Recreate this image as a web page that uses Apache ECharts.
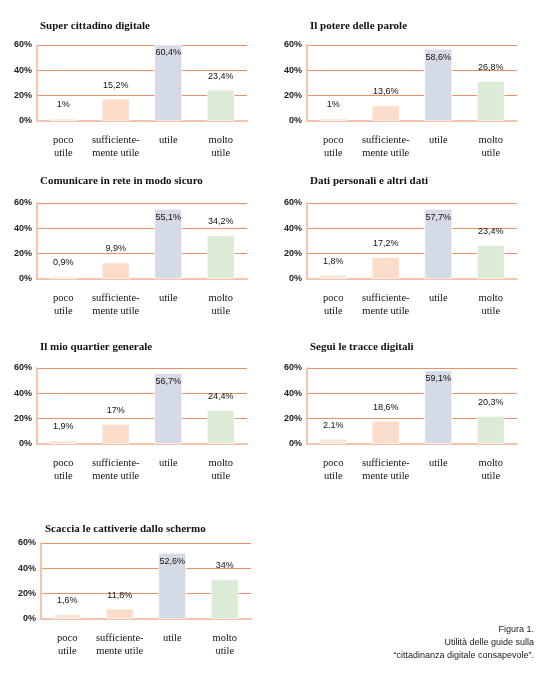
<!DOCTYPE html>
<html>
<head>
<meta charset="utf-8">
<script src="https://cdn.jsdelivr.net/npm/echarts@6/dist/echarts.min.js"></script>
<style>
  html, body { margin: 0; padding: 0; background: #fff; }
  #main { width: 556px; height: 694px; }
</style>
</head>
<body>
<div id="main"></div>
<script>
// categorie e testi
var categories = ['poco\nutile', 'sufficiente-\nmente utile', 'utile', 'molto\nutile'];
var titles = [
    'Super cittadino digitale',
    'Il potere delle parole',
    'Comunicare in rete in modo sicuro',
    'Dati personali e altri dati',
    'Il mio quartier generale',
    'Segui le tracce digitali',
    'Scaccia le cattiverie dallo schermo'
];
var yTicks = [0, 20, 40, 60];

// altezze delle barre ed etichette
var superCittadino = [2.1, 17.7, 60.8, 24.8];
var superCittadinoLbl = ['1%', '15,2%', '60,4%', '23,4%'];
var potereParole = [2.1, 12.4, 57.1, 31.6];
var potereParoleLbl = ['1%', '13,6%', '58,6%', '26,8%'];
var comunicare = [2.1, 13.1, 55.5, 34.8];
var comunicareLbl = ['0,9%', '9,9%', '55,1%', '34,2%'];
var datiPersonali = [3.4, 17.3, 55.5, 26.7];
var datiPersonaliLbl = ['1,8%', '17,2%', '57,7%', '23,4%'];
var quartierGenerale = [3.1, 15.9, 56.1, 26.9];
var quartierGeneraleLbl = ['1,9%', '17%', '56,7%', '24,4%'];
var tracceDigitali = [4.2, 18.3, 58.2, 22.2];
var tracceDigitaliLbl = ['2.1%', '18,6%', '59,1%', '20,3%'];
var cattiverie = [4.0, 8.2, 52.3, 31.5];
var cattiverieLbl = ['1,6%', '11,8%', '52,6%', '34%'];

var values = [superCittadino, potereParole, comunicare, datiPersonali, quartierGenerale, tracceDigitali, cattiverie];
var labels = [superCittadinoLbl, potereParoleLbl, comunicareLbl, datiPersonaliLbl, quartierGeneraleLbl, tracceDigitaliLbl, cattiverieLbl];

// layout dei pannelli
var colLeft = [37, 307, 37, 307, 37, 307, 41];
var rowTop = [45, 45, 203, 203, 368, 368, 543];
var titleTop = [16, 16, 171, 171, 337, 337, 519];
var titleLeft = [35, 305, 35, 305, 35, 305, 40];

var barColors = ['#F9E8DA', '#FADCC8', '#D5DBE6', '#DBEBD6'];
var serif = '"Liberation Serif", "DejaVu Serif", serif';
var sans = '"Liberation Sans", Arial, sans-serif';

var myChart = echarts.init(document.getElementById('main'));

var option = {
    backgroundColor: '#fff',
    animation: false,
    title: [],
    grid: [],
    xAxis: [],
    yAxis: [],
    series: [],
    graphic: [{
        type: 'text',
        x: 534,
        y: 623,
        style: {
            text: 'Figura 1.\nUtilità delle guide sulla\n“cittadinanza digitale consapevole”.',
            align: 'right',
            verticalAlign: 'top',
            font: '9px "Liberation Sans Narrow", "Liberation Sans", sans-serif',
            lineHeight: 13,
            fill: '#222'
        }
    }]
};

for (var i = 0; i < values.length; i++) {
    option.title.push({
        text: titles[i],
        left: titleLeft[i],
        top: titleTop[i],
        textStyle: { fontFamily: serif, fontWeight: 'bold', fontSize: 11, color: '#111' }
    });
    option.grid.push({ left: colLeft[i], top: rowTop[i], width: 210, height: 76 });
    option.xAxis.push({
        type: 'category',
        gridIndex: i,
        data: categories,
        axisLine: { lineStyle: { color: '#F5C3AB', width: 2 } },
        axisTick: { show: false },
        axisLabel: { fontFamily: serif, fontSize: 10.5, lineHeight: 13, color: '#111', margin: 13, interval: 0 }
    });
    option.yAxis.push({
        type: 'value',
        gridIndex: i,
        min: yTicks[0],
        max: yTicks[yTicks.length - 1],
        interval: 20,
        axisLine: { show: true, lineStyle: { color: '#F5C3AB', width: 2 } },
        axisTick: { show: false },
        splitLine: { lineStyle: { color: '#EE8F6B', width: 1 } },
        axisLabel: { formatter: '{value}%', fontFamily: sans, fontWeight: 'bold', fontSize: 9, color: '#222', margin: 5 }
    });
    var lbl = labels[i];
    option.series.push({
        type: 'bar',
        xAxisIndex: i,
        yAxisIndex: i,
        barWidth: 28,
        data: values[i].map(function (v, k) {
            var inside = k === 2;
            return {
                value: v,
                itemStyle: { color: barColors[k], borderColor: 'rgba(255,255,255,0.6)', borderWidth: 1 },
                label: {
                    show: true,
                    position: inside ? 'insideTop' : 'top',
                    distance: inside ? 4 : 9,
                    formatter: (function (t) { return function () { return t; }; })(lbl[k]),
                    fontFamily: sans,
                    fontSize: 9,
                    color: '#111'
                }
            };
        })
    });
}

myChart.setOption(option);
</script>
</body>
</html>
